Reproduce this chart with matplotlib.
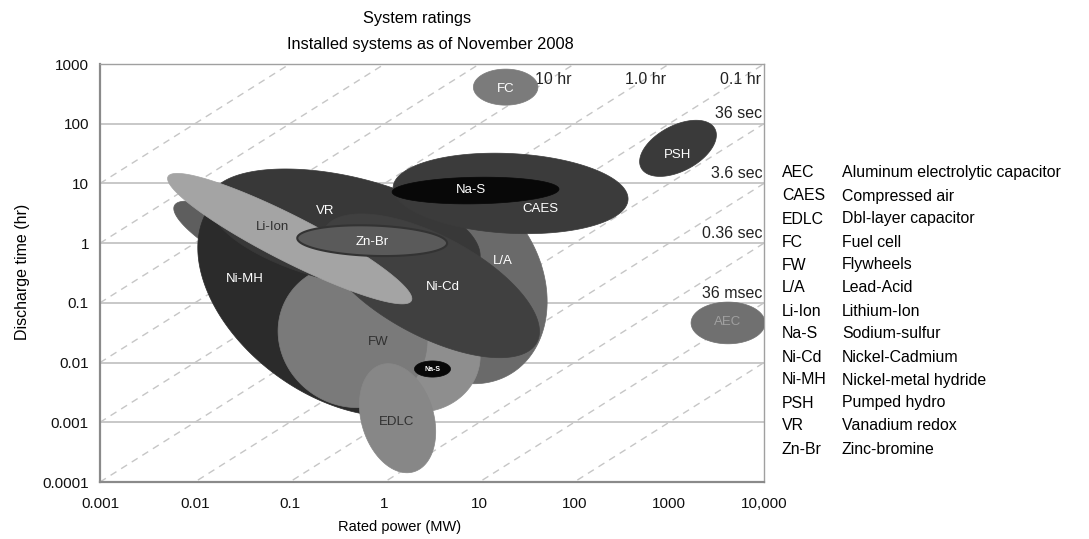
import numpy as np
import matplotlib.pyplot as plt
from matplotlib.ticker import NullLocator

plt.rcParams["font.family"] = ["Liberation Sans", "DejaVu Sans"]

# storage technologies, drawn back to front
names = ["L/A", "", "Ni-MH", "", "FW", "VR", "Ni-Cd", "Li-Ion", "Zn-Br",
         "CAES", "Na-S", "EDLC", "Na-S", "FC", "PSH", "AEC"]
power_mw = [5.6, 0.038, 0.30, 2.28, 0.46, 0.38, 3.05, 0.10, 0.74,
            21.3, 9.1, 1.37, 3.2, 18.9, 1240, 4180]
time_hr = [0.234, 0.91, 0.131, 0.0128, 0.0279, 1.70, 0.193, 1.19, 1.10,
           6.8, 7.6, 0.00117, 0.0078, 410, 38.7, 0.0461]
# semi-axes in decades of power, tilt in degrees as seen on the page
semi_major = [1.14, 0.90, 1.62, 0.65, 0.80, 1.46, 1.27, 1.44, 0.79,
              1.24, 0.88, 0.59, 0.19, 0.34, 0.44, 0.39]
semi_minor = [0.90, 0.23, 1.04, 0.59, 0.74, 0.56, 0.53, 0.24, 0.16,
              0.42, 0.14, 0.38, 0.085, 0.19, 0.24, 0.22]
tilt = [-60, -28, -36, 0, -30, -13, -28, -27, -2, -3, 1, 107, 0, 0, 28, 0]
shade = ["#6a6a6a", "#5e5e5e", "#2b2b2b", "#8e8e8e", "#7a7a7a", "#383838",
         "#404040", "#a4a4a4", "#5a5a5a", "#3b3b3b", "#080808", "#878787",
         "#080808", "#7b7b7b", "#3a3a3a", "#707070"]

# where each name is written
label_power = [17.6, 0, 0.034, 0, 0.86, 0.238, 4.1, 0.0655, 0.745,
               44, 8.1, 1.34, 3.2, 18.9, 1240, 4180]
label_time = [0.51, 0, 0.253, 0, 0.0221, 3.5, 0.186, 1.89, 1.06,
              3.66, 7.9, 0.001, 0.0078, 380, 29.6, 0.047]
label_color = ["white", "", "white", "", "#303030", "white", "white", "#303030",
               "white", "white", "white", "#303030", "white", "white", "white",
               "#a0a0a0"]

# constant ratio lines  time = 10**k * power
line_k = list(range(-6, 5))
top_labels = {1: "10 hr", 0: "1.0 hr", -1: "0.1 hr"}
side_labels = {-2: "36 sec", -3: "3.6 sec", -4: "0.36 sec", -5: "36 msec"}

x_ticks = [1e-3, 1e-2, 1e-1, 1, 10, 100, 1000, 10000]
x_tick_labels = ["0.001", "0.01", "0.1", "1", "10", "100", "1000", "10,000"]
y_ticks = [1e-4, 1e-3, 1e-2, 1e-1, 1, 10, 100, 1000]
y_tick_labels = ["0.0001", "0.001", "0.01", "0.1", "1", "10", "100", "1000"]

legend_abbr = ["AEC", "CAES", "EDLC", "FC", "FW", "L/A", "Li-Ion", "Na-S",
               "Ni-Cd", "Ni-MH", "PSH", "VR", "Zn-Br"]
legend_name = ["Aluminum electrolytic capacitor", "Compressed air",
               "Dbl-layer capacitor", "Fuel cell", "Flywheels", "Lead-Acid",
               "Lithium-Ion", "Sodium-sulfur", "Nickel-Cadmium",
               "Nickel-metal hydride", "Pumped hydro", "Vanadium redox",
               "Zinc-bromine"]

W, H = 1089, 539
fig = plt.figure(figsize=(W / 100, H / 100), dpi=100)
ax = fig.add_axes([100 / W, 1 - 482 / H, 664 / W, 418 / H])
ax.set_xscale("log")
ax.set_yscale("log")
ax.set_xlim(1e-3, 1e4)
ax.set_ylim(1e-4, 1e3)

# pixels per y decade over pixels per x decade
ratio = ax.bbox.height / ax.bbox.width

t = np.linspace(0, 2 * np.pi, 300)
for i in range(len(names)):
    th = np.radians(tilt[i])
    u = semi_major[i] * np.cos(t)
    v = semi_minor[i] * np.sin(t)
    dx = u * np.cos(th) - v * np.sin(th)
    dy = (u * np.sin(th) + v * np.cos(th)) / ratio
    xs = 10 ** (np.log10(power_mw[i]) + dx)
    ys = 10 ** (np.log10(time_hr[i]) + dy)
    edge = "#333333" if names[i] == "Zn-Br" else shade[i]
    lw = 1.5 if names[i] == "Zn-Br" else 0.5
    ax.fill(xs, ys, facecolor=shade[i], edgecolor=edge, lw=lw, zorder=3 + i)
    if names[i]:
        small = i == 12
        ax.text(label_power[i], label_time[i], names[i], ha="center", va="center",
                color=label_color[i], fontsize=5 if small else 9.5,
                fontweight="bold" if small else "normal", zorder=30)

xx = np.array([1e-3, 1e4])
for k in line_k:
    ax.plot(xx, 10.0 ** k * xx, ls=(0, (5, 4)), color="#c6c6c6", lw=1, zorder=2)
for k, txt in top_labels.items():
    ax.annotate(txt, (10.0 ** (3 - k), 1e3), xytext=(-2, -11),
                textcoords="offset points", ha="right", va="center",
                fontsize=11.5, color="#222222", zorder=2.5)
for k, txt in side_labels.items():
    ax.annotate(txt, (1e4, 10.0 ** (k + 4)), xytext=(-1, 7),
                textcoords="offset points", ha="right", va="center",
                fontsize=11.5, color="#222222", zorder=2.5)

ax.yaxis.grid(True, color="#c8c8c8", lw=1.4)
ax.set_axisbelow(True)
ax.set_xticks(x_ticks)
ax.set_xticklabels(x_tick_labels)
ax.set_yticks(y_ticks)
ax.set_yticklabels(y_tick_labels)
ax.xaxis.set_minor_locator(NullLocator())
ax.yaxis.set_minor_locator(NullLocator())
ax.tick_params(length=0, labelsize=11, colors="#111111")
ax.tick_params(axis="x", pad=11)
ax.tick_params(axis="y", pad=8)
for side, sp in ax.spines.items():
    sp.set_color("#a0a0a0" if side in ("top", "right") else "#8a8a8a")
    sp.set_linewidth(1.0 if side in ("top", "right") else 1.6)

fig.text(417 / W, 1 - 18 / H, "System ratings", ha="center", va="center",
         fontsize=11.8)
fig.text(430 / W, 1 - 45 / H, "Installed systems as of November 2008",
         ha="center", va="center", fontsize=11.8)
fig.text(22 / W, 1 - 272 / H, "Discharge time (hr)", rotation=90,
         ha="center", va="center", fontsize=11.5)
fig.text(400 / W, 1 - 527 / H, "Rated power (MW)", ha="center", va="center",
         fontsize=10.5)

for j, (ab, nm) in enumerate(zip(legend_abbr, legend_name)):
    y = 1 - (173 + j * 23) / H
    fig.text(782 / W, y, ab, ha="left", va="center", fontsize=11.4)
    fig.text(842 / W, y, nm, ha="left", va="center", fontsize=11.4)

fig.savefig("out.png", dpi=100, facecolor="white")
